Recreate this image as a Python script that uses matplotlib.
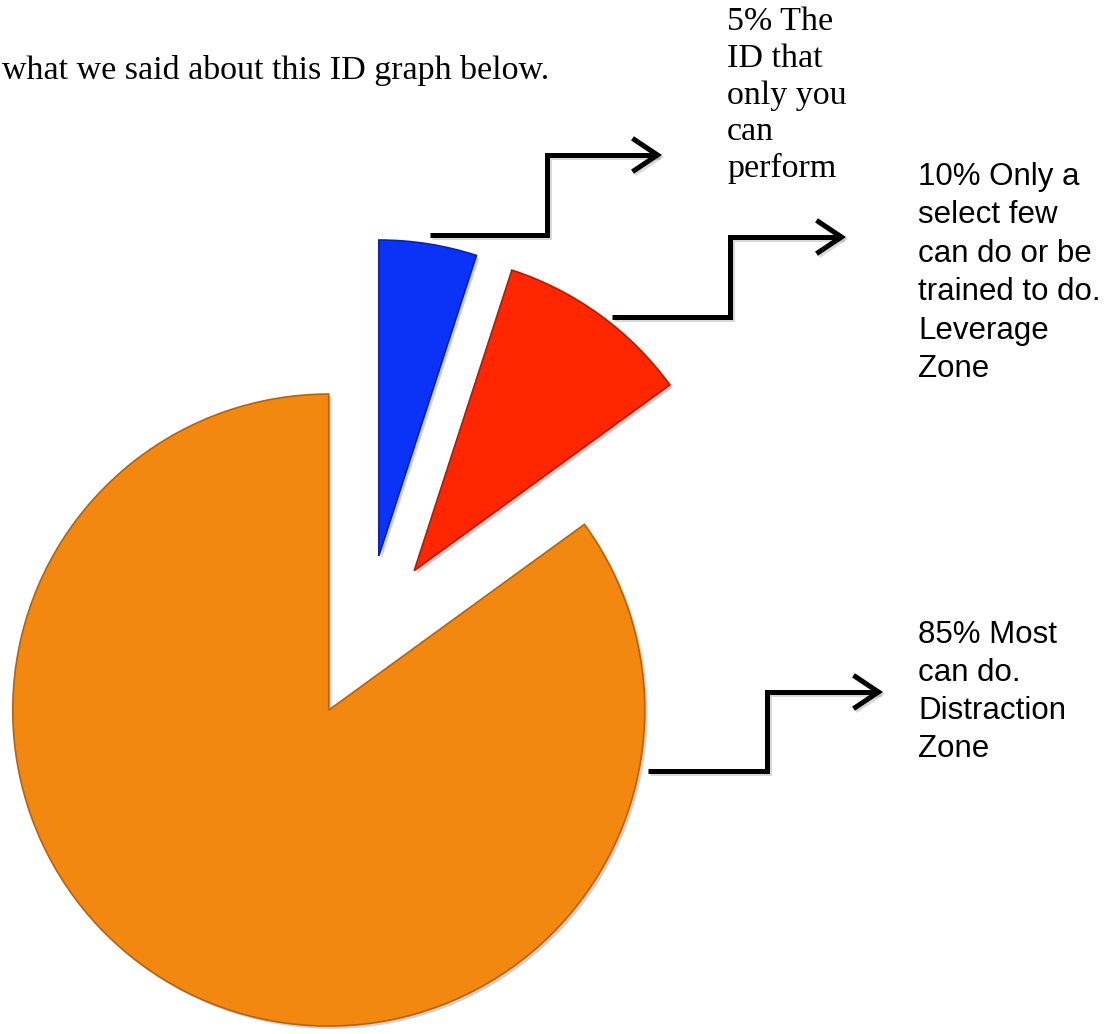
import matplotlib
matplotlib.use('Agg')
import matplotlib.pyplot as plt
import matplotlib.patheffects as pe
from matplotlib.patches import FancyArrowPatch
from matplotlib.path import Path

W, H = 1120, 1034

# pie data (clockwise from 12 o'clock)
shares = [5, 10, 85]
colors = ['#0B33F7', '#FF2600', '#F2880F']
edges = ['#0822B0', '#B51B00', '#B8620A']

heading = 'what we said about this ID graph below.'
label_5 = ['5% The', 'ID that', 'only you', 'can', 'perform']
label_10 = ['10% Only a', 'select few', 'can do or be', 'trained to do.', 'Leverage', 'Zone']
label_85 = ['85% Most', 'can do.', 'Distraction', 'Zone']

fig = plt.figure(figsize=(W / 100, H / 100), dpi=100)
ax = fig.add_axes([0, 0, 1, 1])

wedges, _ = ax.pie(shares, colors=colors, startangle=90, counterclock=False,
                   explode=[82, 82, 82], radius=316, center=(366, H - 637),
                   wedgeprops=dict(linewidth=1.2))
for w, ec in zip(wedges, edges):
    w.set_edgecolor(ec)
    w.set_path_effects([pe.SimplePatchShadow(offset=(2, -2), shadow_rgbFace='0.4', alpha=0.3),
                        pe.Normal()])

ax.set_xlim(0, W)
ax.set_ylim(0, H)
ax.set_aspect('auto')
ax.axis('off')


def elbow(x0, y0, xm, y1, x1):
    # y given from the top of the image
    verts = [(x0, H - y0), (xm, H - y0), (xm, H - y1), (x1, H - y1)]
    p = FancyArrowPatch(path=Path(verts), arrowstyle='->,head_length=0.45,head_width=0.3',
                        mutation_scale=40, lw=3.6, color='black', joinstyle='miter',
                        capstyle='butt')
    p.set_path_effects([pe.SimpleLineShadow(offset=(1.5, -1.5), shadow_color='0.5', alpha=0.3),
                        pe.Normal()])
    ax.add_patch(p)


elbow(430, 235, 547, 155, 662)
elbow(612, 317, 730, 237, 846)
elbow(648, 771, 767, 692, 883)


def block(lines, x, y0, step, **kw):
    for i, s in enumerate(lines):
        ax.text(x, H - (y0 + i * step), s, ha='left', va='baseline', **kw)


serif = dict(family='Liberation Serif', fontsize=24.5, color='black')
sans = dict(family='Liberation Sans', fontsize=22.5, color='black')

ax.text(2, H - 79, heading, ha='left', va='baseline', **serif)
block(label_5, 727, 30, 36.8, **serif)
block(label_10, 918, 185, 38.4, **sans)
block(label_85, 918, 643, 38, **sans)

fig.savefig('out.png', dpi=100)
